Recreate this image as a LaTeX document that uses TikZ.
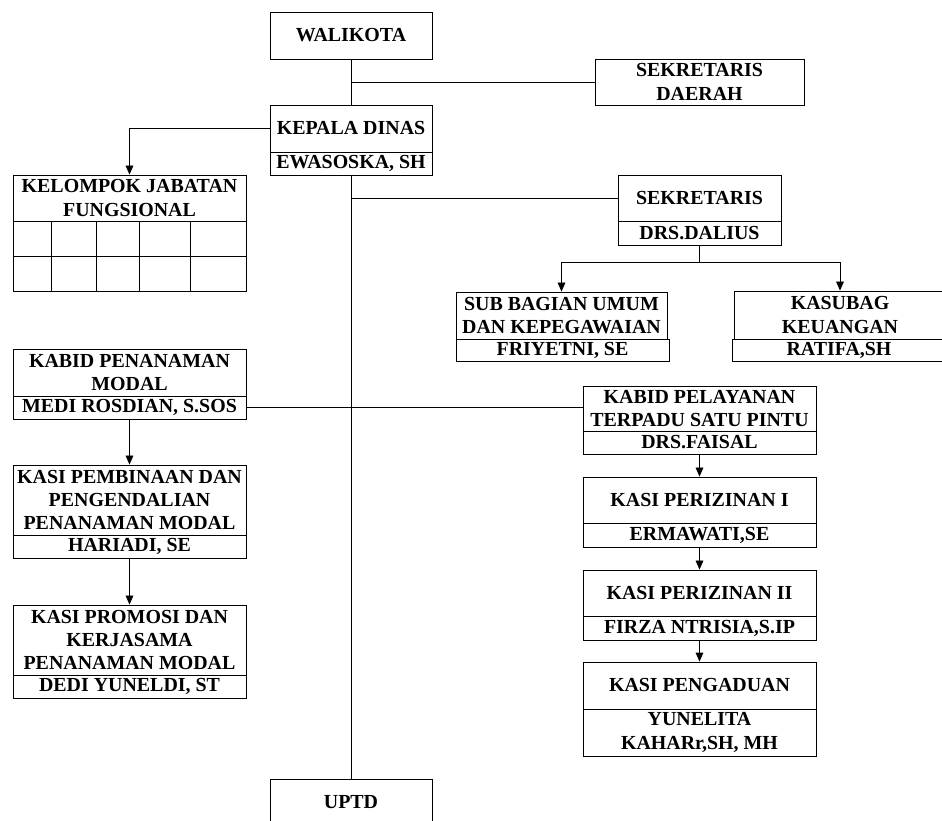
\documentclass[tikz,border=0pt]{standalone}
\usepackage{fontspec}
\setmainfont{Liberation Serif}
\usetikzlibrary{arrows.meta}
\begin{document}
\begin{tikzpicture}[x=0.03cm, y=-0.03cm, line width=0.7pt,
    >={Triangle[length=0.27cm, width=0.23cm]},
    kotak/.style={draw, fill=white, inner sep=0pt, align=center,
        font=\bfseries\fontsize{17}{20}\selectfont}]
    \useasboundingbox (0,0) rectangle (942,821);
    % pimpinan
    \node[kotak, minimum width=4.86cm, minimum height=1.41cm] (walikota) at (351,35.5) {WALIKOTA};
    \node[kotak, minimum width=6.27cm, minimum height=1.38cm] (sekda) at (699.5,82) {SEKRETARIS\\DAERAH};
    \node[kotak, minimum width=4.86cm, minimum height=1.41cm] (kadis) at (351,128.5) {KEPALA DINAS};
    \node[kotak, minimum width=4.86cm, minimum height=0.69cm] (kadisnama) at (351,163.5) {EWASOSKA, SH};
    % kelompok jabatan fungsional
    \node[kotak, minimum width=6.99cm, minimum height=1.38cm] (kjf) at (129.5,198) {KELOMPOK JABATAN\\FUNGSIONAL};
    \node[draw, minimum width=6.99cm, minimum height=2.1cm, inner sep=0pt] (kjfgrid) at (129.5,256) {};
    \draw (13,256) -- (246,256);
    \foreach \k in {51,96.5,139,190}
        \draw (\k,221) -- (\k,291);
    % sekretariat
    \node[kotak, minimum width=4.89cm, minimum height=1.38cm] (sekr) at (699.5,198) {SEKRETARIS};
    \node[kotak, minimum width=4.89cm, minimum height=0.72cm] (sekrnama) at (699.5,233) {DRS.DALIUS};
    \node[kotak, minimum width=6.33cm, minimum height=1.41cm] (subbag) at (561.5,315.5) {SUB BAGIAN UMUM\\DAN KEPEGAWAIAN};
    \node[kotak, minimum width=6.39cm, minimum height=0.66cm] (subbagnama) at (562.5,350) {FRIYETNI, SE};
    \node[kotak, minimum width=6.36cm, minimum height=1.44cm] (kasubag) at (840,315) {KASUBAG\\KEUANGAN};
    \node[kotak, minimum width=6.42cm, minimum height=0.66cm] (kasubagnama) at (839,350) {RATIFA,SH};
    % bidang penanaman modal
    \node[kotak, minimum width=6.99cm, minimum height=1.41cm] (kabidpm) at (129.5,372.5) {KABID PENANAMAN\\MODAL};
    \node[kotak, minimum width=6.99cm, minimum height=0.69cm] (kabidpmnama) at (129.5,407.5) {MEDI ROSDIAN, S.SOS};
    \node[kotak, minimum width=6.99cm, minimum height=2.1cm] (kasibina) at (129.5,500) {KASI PEMBINAAN DAN\\PENGENDALIAN\\PENANAMAN MODAL};
    \node[kotak, minimum width=6.99cm, minimum height=0.69cm] (kasibinanama) at (129.5,546.5) {HARIADI, SE};
    \node[kotak, minimum width=6.99cm, minimum height=2.1cm] (kasipromosi) at (129.5,640) {KASI PROMOSI DAN\\KERJASAMA\\PENANAMAN MODAL};
    \node[kotak, minimum width=6.99cm, minimum height=0.69cm] (kasipromosinama) at (129.5,686.5) {DEDI YUNELDI, ST};
    % bidang pelayanan terpadu satu pintu
    \node[kotak, minimum width=6.99cm, minimum height=1.35cm] (kabidpts) at (699.5,408.5) {KABID PELAYANAN\\TERPADU SATU PINTU};
    \node[kotak, minimum width=6.99cm, minimum height=0.69cm] (kabidptsnama) at (699.5,442.5) {DRS.FAISAL};
    \node[kotak, minimum width=6.99cm, minimum height=1.38cm] (kasiizin1) at (699.5,500) {KASI PERIZINAN I};
    \node[kotak, minimum width=6.99cm, minimum height=0.72cm] (kasiizin1nama) at (699.5,535) {ERMAWATI,SE};
    \node[kotak, minimum width=6.99cm, minimum height=1.38cm] (kasiizin2) at (699.5,593) {KASI PERIZINAN II};
    \node[kotak, minimum width=6.99cm, minimum height=0.72cm] (kasiizin2nama) at (699.5,628) {FIRZA NTRISIA,S.IP};
    \node[kotak, minimum width=6.99cm, minimum height=1.41cm] (kasiadu) at (699.5,685.5) {KASI PENGADUAN};
    \node[kotak, minimum width=6.99cm, minimum height=1.41cm] (kasiadunama) at (699.5,732.5) {YUNELITA\\KAHARr,SH, MH};
    % uptd
    \node[kotak, minimum width=4.86cm, minimum height=1.41cm] (uptd) at (351,802.5) {UPTD};
    % garis
    \draw (walikota) -- (kadis);
    \draw (walikota.south |- sekda.west) -- (sekda.west);
    \draw[->] (kadis.west) -| (kjf.north);
    \draw (kadisnama.south) -- (uptd.north);
    \draw (kadisnama.south |- sekr.west) -- (sekr.west);
    \coordinate (cabang) at (699.5,262);
    \draw (sekrnama.south) -- (cabang);
    \draw[->] (cabang) -| (subbag.north);
    \draw[->] (cabang) -| (kasubag.north);
    \draw (kabidpmnama.east) -- (kabidpmnama.east -| kabidpts.west);
    \draw[->] (kabidpmnama) -- (kasibina);
    \draw[->] (kasibinanama) -- (kasipromosi);
    \draw[->] (kabidptsnama) -- (kasiizin1);
    \draw[->] (kasiizin1nama) -- (kasiizin2);
    \draw[->] (kasiizin2nama) -- (kasiadu);
\end{tikzpicture}
\end{document}
